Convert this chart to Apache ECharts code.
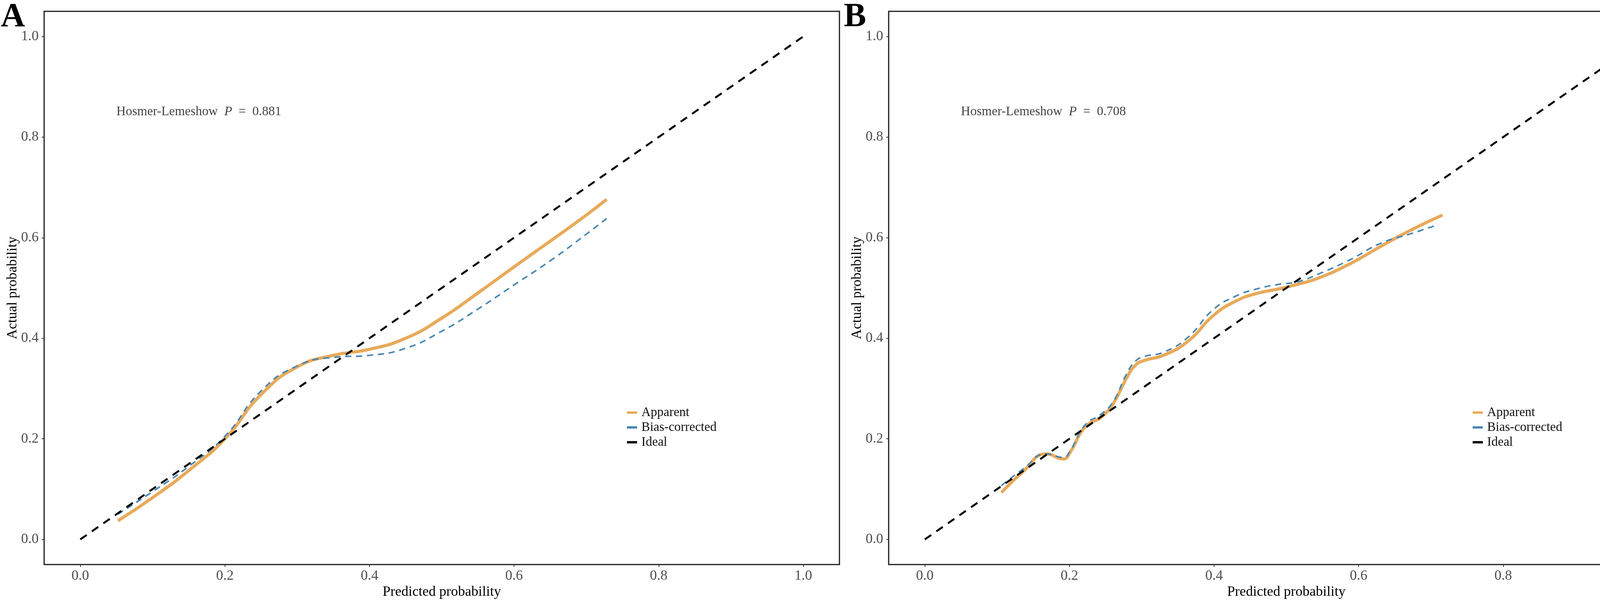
<!DOCTYPE html>
<html>
<head>
<meta charset="utf-8">
<script src="https://cdn.jsdelivr.net/npm/echarts@6/dist/echarts.min.js"></script>
<style>
  html, body { margin: 0; padding: 0; background: #fff; }
  #main { width: 4317px; height: 1546px; }
</style>
</head>
<body>
<div id="main"></div>
<script>
var panels = ['A', 'B'];
var hlP = ['0.881', '0.708'];
var ticks = [0, 0.2, 0.4, 0.6, 0.8, 1.0];

var idealX = [0, 1];
var idealY = [0, 1];

// panel A
var aX = [0.052, 0.10, 0.15, 0.20, 0.25, 0.30, 0.35, 0.40, 0.45, 0.50, 0.55, 0.60, 0.65, 0.70, 0.728];
var aApparent = [0.037, 0.083, 0.137, 0.200, 0.288, 0.343, 0.366, 0.378, 0.400, 0.440, 0.490, 0.542, 0.593, 0.645, 0.676];
var aBias = [0.050, 0.095, 0.145, 0.205, 0.295, 0.345, 0.362, 0.366, 0.380, 0.414, 0.458, 0.506, 0.554, 0.607, 0.638];

// panel B
var bX = [0.106, 0.136, 0.168, 0.192, 0.2005, 0.222, 0.244, 0.261, 0.278, 0.291, 0.304, 0.330, 0.364, 0.399, 0.429, 0.459, 0.489, 0.515, 0.545, 0.588, 0.631, 0.675, 0.716];
var bApparent = [0.093, 0.135, 0.170, 0.160, 0.172, 0.224, 0.243, 0.271, 0.318, 0.346, 0.356, 0.366, 0.394, 0.445, 0.473, 0.489, 0.498, 0.507, 0.520, 0.548, 0.583, 0.617, 0.645];
var bBiasX = [0.106, 0.136, 0.168, 0.192, 0.2005, 0.222, 0.244, 0.261, 0.278, 0.291, 0.304, 0.330, 0.364, 0.399, 0.429, 0.459, 0.489, 0.515, 0.545, 0.588, 0.631, 0.675, 0.708];
var bBias = [0.107, 0.140, 0.170, 0.163, 0.175, 0.228, 0.249, 0.275, 0.326, 0.354, 0.364, 0.372, 0.402, 0.457, 0.483, 0.498, 0.507, 0.512, 0.528, 0.556, 0.589, 0.609, 0.625];

var FONT = '"Liberation Serif", "Times New Roman", serif';
var ORANGE = '#E8AA5A';
var BLUE = '#4A88B2';

function pairs(xs, ys) {
  var out = [];
  for (var i = 0; i < xs.length; i++) out.push([xs[i], ys[i]]);
  return out;
}

var chart = echarts.init(document.getElementById('main'));

var grids = [
  { left: 113, right: 2168, top: 29, bottom: 101 },
  { left: 2275, right: 6, top: 29, bottom: 101 }
];

function axisCommon(i, isX) {
  return {
    type: 'value',
    gridIndex: i,
    min: -0.05,
    max: 1.05,
    splitLine: { show: false },
    axisLine: { show: false, onZero: false },
    axisTick: { show: true, length: 6, customValues: ticks, lineStyle: { color: '#333', width: 2 } },
    axisLabel: {
      customValues: ticks,
      formatter: function (v) { return v.toFixed(1); },
      fontSize: 36, color: '#4d4d4d', fontFamily: FONT,
      margin: isX ? 12 : 14
    },
    name: isX ? 'Predicted probability' : 'Actual probability',
    nameLocation: 'middle',
    nameGap: isX ? 46 : 62,
    nameTextStyle: { fontSize: 36, color: '#000', fontFamily: FONT }
  };
}

var series = [];
var sets = [[aX, aApparent, aX, aBias], [bX, bApparent, bBiasX, bBias]];
sets.forEach(function (s, i) {
  series.push({
    name: 'Apparent', type: 'line', xAxisIndex: i, yAxisIndex: i,
    data: pairs(s[0], s[1]), showSymbol: false, smooth: 0.5,
    lineStyle: { color: ORANGE, width: 8 }, itemStyle: { color: ORANGE }, z: 2
  });
  series.push({
    name: 'Bias-corrected', type: 'line', xAxisIndex: i, yAxisIndex: i,
    data: pairs(s[2], s[3]), showSymbol: false, smooth: 0.5,
    lineStyle: { color: BLUE, width: 4, type: [16, 12] }, itemStyle: { color: BLUE }, z: 3
  });
  series.push({
    name: 'Ideal', type: 'line', xAxisIndex: i, yAxisIndex: i,
    data: pairs(idealX, idealY), showSymbol: false,
    lineStyle: { color: '#000', width: 5, type: [20, 16] }, itemStyle: { color: '#000' }, z: 4
  });
  series.push({
    type: 'scatter', xAxisIndex: i, yAxisIndex: i, symbolSize: 0, silent: true,
    data: [[0.05, 0.85]],
    label: {
      show: true, position: 'right', distance: 0,
      formatter: '{a|Hosmer-Lemeshow  }{p|P}{a|  =  ' + hlP[i] + '}',
      rich: {
        a: { fontSize: 33, fontFamily: FONT, color: '#111' },
        p: { fontSize: 33, fontFamily: FONT, color: '#111', fontStyle: 'italic' }
      }
    }
  });
});

function legendAt(left) {
  return {
    left: left, top: 1033, orient: 'vertical',
    itemWidth: 26, itemHeight: 6, itemGap: 2,
    textStyle: { fontSize: 33, fontFamily: FONT, color: '#111', lineHeight: 36, padding: [0, 0, 0, 6] },
    data: [
      { name: 'Apparent', icon: 'rect' },
      { name: 'Bias-corrected', icon: 'rect' },
      { name: 'Ideal', icon: 'rect' }
    ],
    selectedMode: false
  };
}

var option = {
  animation: false,
  backgroundColor: '#fff',
  grid: grids.map(function (g) {
    return { left: g.left, right: g.right, top: g.top, bottom: g.bottom, show: true, borderColor: '#1a1a1a', borderWidth: 3 };
  }),
  xAxis: [axisCommon(0, true), axisCommon(1, true)],
  yAxis: [axisCommon(0, false), axisCommon(1, false)],
  legend: [legendAt(1600), legendAt(3765)],
  graphic: [
    { type: 'text', left: 2, top: 2, style: { text: panels[0], fontSize: 86, fontWeight: 'bold', fontFamily: FONT, fill: '#000' } },
    { type: 'text', left: 2160, top: 2, style: { text: panels[1], fontSize: 86, fontWeight: 'bold', fontFamily: FONT, fill: '#000' } }
  ],
  series: series
};

chart.setOption(option);
</script>
</body>
</html>
